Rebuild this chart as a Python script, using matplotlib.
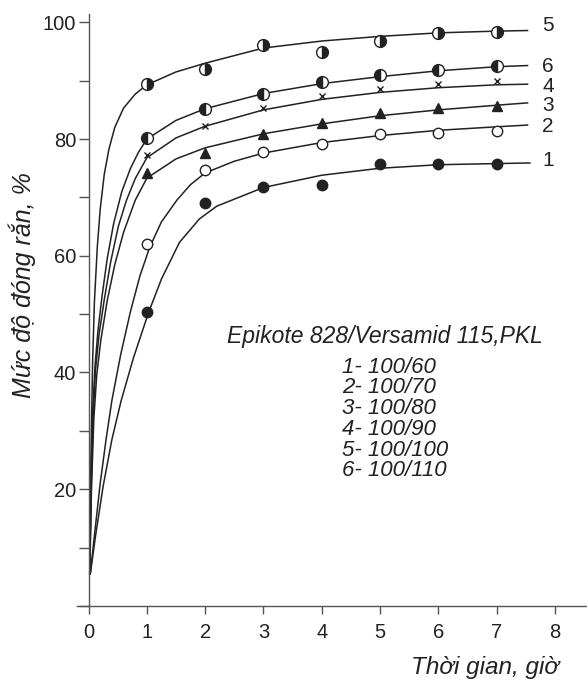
import matplotlib.pyplot as plt
from matplotlib.ticker import MultipleLocator

plt.rcParams['font.family'] = ['Liberation Sans', 'DejaVu Sans']

hours = [1, 2, 3, 4, 5, 6, 7]

# measured points
s1 = [50.3, 69.1, 71.8, 72.1, 75.8, 75.8, 75.8]
s2 = [62.0, 74.7, 77.8, 79.1, 80.8, 81.0, 81.4]
s3 = [74.2, 77.6, 80.8, 82.8, 84.4, 85.3, 85.6]
s4 = [77.3, 82.2, 85.3, 87.4, 88.5, 89.4, 89.9]
s5 = [89.4, 92.0, 96.2, 95.0, 96.8, 98.1, 98.3]
s6 = [80.1, 85.1, 87.7, 89.7, 90.9, 91.9, 92.6]

# fitted curves
c1_x = [0.03, 0.12, 0.25, 0.4, 0.56, 0.77, 1.03, 1.25, 1.56, 1.9, 2.2, 3, 4, 5, 6, 7, 7.57]
c1_y = [5.5, 12, 20.5, 28.5, 35.2, 42.5, 50.3, 56.0, 62.3, 66.3, 68.5, 71.7, 73.8, 75.0, 75.6, 75.8, 75.9]
c2_x = [0.03, 0.1, 0.2, 0.3, 0.4, 0.55, 0.72, 0.88, 1.05, 1.25, 1.52, 1.75, 2, 2.5, 3, 4, 5, 6, 7, 7.53]
c2_y = [5.5, 12, 21, 28.5, 35.2, 43, 50.5, 56.5, 61.5, 65.8, 69.6, 72.2, 74.2, 76.2, 77.6, 79.4, 80.6, 81.5, 82.1, 82.4]
c3_x = [0.02, 0.05, 0.09, 0.14, 0.21, 0.32, 0.45, 0.6, 0.8, 1.0, 1.5, 2, 3, 4, 5, 6, 7, 7.53]
c3_y = [5.5, 20, 32, 39.5, 45.5, 52.3, 58.5, 64, 69.5, 73.3, 76.6, 78.5, 80.9, 82.6, 84.0, 85.0, 85.8, 86.2]
c4_x = [0.02, 0.045, 0.08, 0.12, 0.18, 0.27, 0.38, 0.51, 0.65, 0.8, 1.0, 1.5, 2, 3, 4, 5, 6, 7, 7.53]
c4_y = [5.5, 20, 33, 40.5, 46.5, 52.5, 59, 65, 69.5, 73.2, 76.8, 80.2, 82.2, 85.0, 86.8, 88.0, 88.8, 89.3, 89.4]
c5_x = [0.02, 0.04, 0.07, 0.1, 0.15, 0.2, 0.27, 0.35, 0.45, 0.6, 0.8, 1.0, 1.5, 2, 3, 4, 5, 6, 7, 7.53]
c5_y = [5.5, 25, 42, 52, 61.5, 68, 74, 78.3, 82, 85.3, 87.7, 89.3, 91.5, 93.0, 95.6, 96.8, 97.6, 98.2, 98.5, 98.6]
c6_x = [0.02, 0.04, 0.07, 0.11, 0.16, 0.23, 0.32, 0.43, 0.57, 0.72, 0.86, 1.0, 1.5, 2, 3, 4, 5, 6, 7, 7.53]
c6_y = [5.5, 20, 33, 41, 47, 53, 59.5, 65.5, 71, 75, 77.8, 80, 83.2, 85.2, 87.8, 89.5, 90.7, 91.7, 92.4, 92.6]

curve_labels = ['1', '2', '3', '4', '5', '6']
label_y = [76.4, 82.2, 85.8, 89.0, 99.5, 92.5]
legend_lines = ['1- 100/60', '2- 100/70', '3- 100/80', '4- 100/90', '5- 100/100', '6- 100/110']

ink = '#222222'
fig = plt.figure(figsize=(5.87, 6.8), dpi=100)
ax = fig.add_axes([0.131, 0.109, 0.869, 0.871])

curves = [(c1_x, c1_y), (c2_x, c2_y), (c3_x, c3_y), (c4_x, c4_y), (c5_x, c5_y), (c6_x, c6_y)]
for cx, cy in curves:
    ax.plot(cx, cy, color=ink, lw=1.1, solid_joinstyle='round')

ax.plot(hours, s1, 'o', color=ink, ms=7.5)
ax.plot(hours, s2, 'o', mfc='white', mec=ink, mew=1.0, ms=7.5)
ax.plot(hours, s3, '^', color=ink, ms=7.5)
ax.plot(hours, s4, 'x', color=ink, ms=4.5, mew=1.0)
ax.plot(hours, s5, 'o', fillstyle='right', color=ink, mfcalt='white', mew=1.0, ms=8.5)
ax.plot(hours, s6, 'o', fillstyle='left', color=ink, mfcalt='white', mew=1.0, ms=8.5)

for lab, ly in zip(curve_labels, label_y):
    ax.text(7.78, ly, lab, fontsize=15, color=ink, va='center', ha='left')

ax.text(2.38, 46.2, 'Epikote 828/Versamid 115,PKL', fontsize=16.5, style='italic',
        color=ink, va='center', ha='left')
for i, line in enumerate(legend_lines):
    ax.text(4.35, 40.9 - i * 3.55, line, fontsize=16, style='italic',
            color=ink, va='center', ha='left')

ax.set_xlim(-0.2, 8.55)
ax.set_ylim(0, 101.5)
ax.spines['left'].set_position(('data', 0))
ax.spines['top'].set_visible(False)
ax.spines['right'].set_visible(False)
for sp in ('left', 'bottom'):
    ax.spines[sp].set_color('#555555')
    ax.spines[sp].set_linewidth(1.0)

ax.set_xticks(range(0, 9))
ax.set_yticks([20, 40, 60, 80, 100])
ax.yaxis.set_minor_locator(MultipleLocator(10))
ax.tick_params(axis='both', which='both', direction='out', color='#555555',
               labelsize=14.5, labelcolor=ink, width=1.0)
ax.tick_params(axis='y', which='both', length=7, pad=2)
ax.tick_params(axis='x', length=6, pad=6)

fig.text(0.0375, 0.581, 'Mức độ đóng rắn, %', rotation=90, fontsize=18, style='italic',
         color=ink, ha='center', va='center')
fig.text(0.826, 0.019, 'Thời gian, giờ', fontsize=17.5, style='italic',
         color=ink, ha='center', va='center')

fig.savefig('out.png', dpi=100)
